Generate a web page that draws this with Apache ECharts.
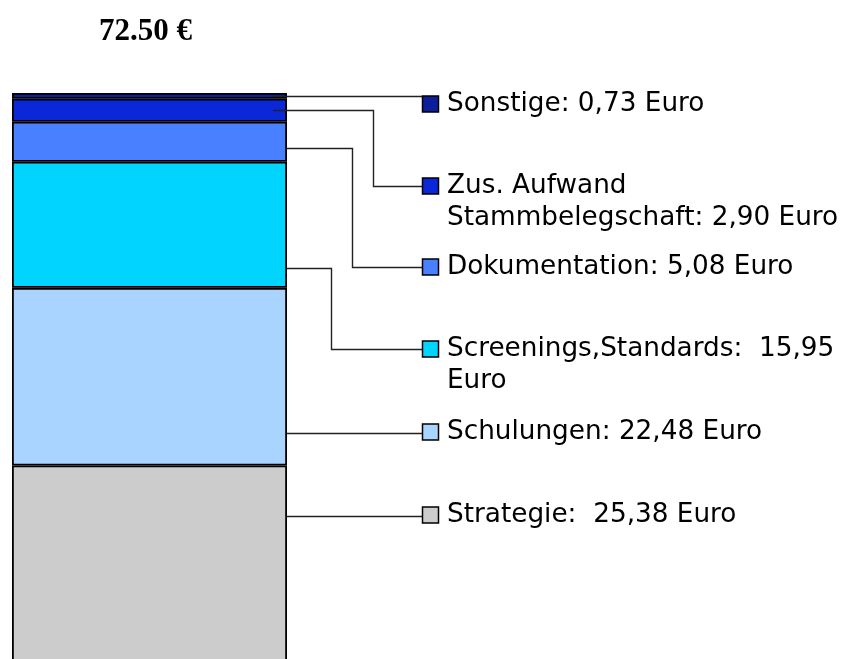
<!DOCTYPE html>
<html>
<head>
<meta charset="UTF-8">
<title>Kosten</title>
<script src="https://cdn.jsdelivr.net/npm/echarts@6/dist/echarts.min.js"></script>
<style>
  html, body { margin: 0; padding: 0; background: #fff; overflow: hidden; }
  /* a bit taller than the window: the bar runs past the bottom edge */
  #chart { width: 843px; height: 666px; }
</style>
</head>
<body>
<div id="chart"></div>
<script>
// data, bottom to top
var names = ['Strategie', 'Schulungen', 'Screenings,Standards', 'Dokumentation', 'Zus. Aufwand Stammbelegschaft', 'Sonstige'];
var values = [25.38, 22.48, 15.95, 5.08, 2.90, 0.73];
var labels = [
  'Strategie:  25,38 Euro',
  'Schulungen: 22,48 Euro',
  'Screenings,Standards:  15,95\nEuro',
  'Dokumentation: 5,08 Euro',
  'Zus. Aufwand\nStammbelegschaft: 2,90 Euro',
  'Sonstige: 0,73 Euro'
];
var colors = ['#cccccc', '#a8d4ff', '#00d4ff', '#4880ff', '#0a28d8', '#0a1f99'];
var totalTitle = '72.50 €';

// leader line layout (pixels / fractions)
var anchorFrac = [0.75, 0.185, 0.16, 0.34, 0.5, 0.5]; // where the line leaves the segment
var startInset = [0, 0, 0, 0, 14, 14];
var elbowX = [330, 330, 331, 352, 373, 345];
var labelY = [515, 432, 349, 267, 186, 104];
var connY = [null, null, 349, 267, 186, null]; // null: straight line
var squareX = 422, squareSize = 16, textX = 447;

var chart = echarts.init(document.getElementById('chart'));

var series = names.map(function (n, i) {
  return {
    name: n,
    type: 'bar',
    stack: 'total',
    barWidth: '100%',
    data: [values[i]],
    itemStyle: { color: colors[i], borderColor: '#000', borderWidth: 1.8 },
    animation: false
  };
});

var leaderData = values.map(function (v, i) {
  var low = 0;
  for (var k = 0; k < i; k++) low += values[k];
  return [0, low + v * anchorFrac[i], i];
});

series.push({
  type: 'custom',
  clip: false,
  z: 10,
  animation: false,
  data: leaderData,
  renderItem: function (params, api) {
    var i = api.value(2);
    var p = api.coord([0, api.value(1)]);
    var cs = params.coordSys;
    var x0 = cs.x + cs.width - startInset[i];
    var y0 = Math.round(p[1]) + 0.5;
    var yc = connY[i] == null ? y0 : connY[i] + 0.5;
    var pts = [[x0, y0], [elbowX[i] + 0.5, y0], [elbowX[i] + 0.5, yc], [squareX, yc]];
    return {
      type: 'group',
      children: [
        { type: 'polyline', shape: { points: pts }, style: { stroke: '#222', lineWidth: 1.4, fill: null } },
        { type: 'rect', shape: { x: squareX + 0.5, y: labelY[i] - squareSize / 2, width: squareSize, height: squareSize },
          style: { fill: colors[i], stroke: '#000', lineWidth: 1.5 } },
        { type: 'text', style: { text: labels[i], x: textX, y: labelY[i] - 16, fill: '#000',
            font: '26.3px "DejaVu Sans"', lineHeight: 32, verticalAlign: 'top', align: 'left' } }
      ]
    };
  }
});

var option = {
  backgroundColor: '#fff',
  animation: false,
  title: {
    text: totalTitle,
    left: 94,
    top: 11,
    textStyle: { fontFamily: '"Liberation Serif"', fontWeight: 'bold', fontSize: 31, color: '#000' }
  },
  grid: { left: 12, top: 93, width: 275, bottom: 0 },
  xAxis: { type: 'category', data: [''], show: false },
  yAxis: { type: 'value', min: 0, max: 72.52, show: false },
  series: series
};

chart.setOption(option);
</script>
</body>
</html>
